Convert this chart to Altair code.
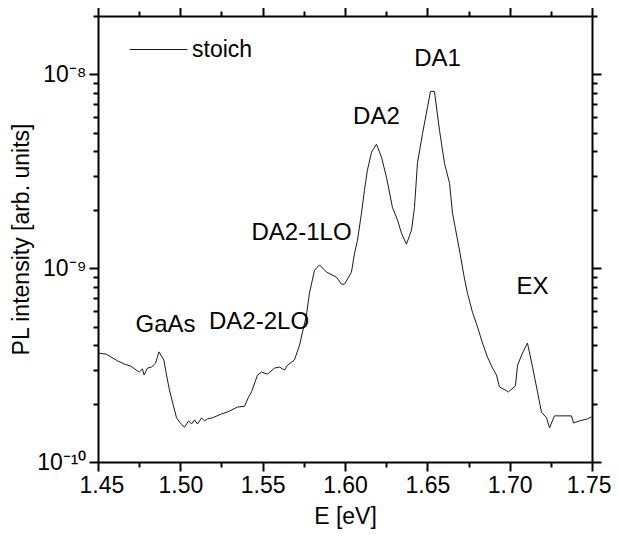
import altair as alt
import pandas as pd

# ---- data ----
energy = [1.450, 1.455, 1.462, 1.466, 1.470, 1.475, 1.477, 1.478, 1.480, 1.4825,
          1.485, 1.487, 1.490, 1.4916, 1.4934, 1.4952, 1.4977, 1.500, 1.5025, 1.505,
          1.5068, 1.5086, 1.5104, 1.5129, 1.5147, 1.5165, 1.5195, 1.525, 1.5286, 1.5347,
          1.539, 1.5414, 1.5432, 1.5469, 1.5493, 1.5529, 1.5572, 1.5602, 1.5633, 1.5651,
          1.5693, 1.5724, 1.5742, 1.5766, 1.5784, 1.5815, 1.5845, 1.5888, 1.5948, 1.5979,
          1.5997, 1.6039, 1.6058, 1.6076, 1.610, 1.6118, 1.6136, 1.6161, 1.6191, 1.6222,
          1.6252, 1.6288, 1.6319, 1.6343, 1.6373, 1.6404, 1.6422, 1.644, 1.6471, 1.6501,
          1.6519, 1.6543, 1.6574, 1.6604, 1.6635, 1.6653, 1.6695, 1.6726, 1.6744, 1.6774,
          1.6805, 1.6835, 1.6865, 1.6896, 1.692, 1.6938, 1.6993, 1.7035, 1.7048, 1.7078,
          1.7108, 1.7139, 1.7169, 1.7193, 1.7224, 1.7242, 1.7272, 1.7375, 1.7388, 1.7424,
          1.7473, 1.7497]
intensity = [3.65e-10, 3.60e-10, 3.32e-10, 3.20e-10, 3.12e-10, 2.91e-10, 3.02e-10, 2.81e-10, 3.05e-10, 3.09e-10,
             3.24e-10, 3.70e-10, 3.36e-10, 2.81e-10, 2.35e-10, 2.04e-10, 1.69e-10, 1.59e-10, 1.51e-10, 1.63e-10,
             1.57e-10, 1.65e-10, 1.57e-10, 1.69e-10, 1.63e-10, 1.67e-10, 1.69e-10, 1.77e-10, 1.81e-10, 1.92e-10,
             1.94e-10, 2.16e-10, 2.30e-10, 2.81e-10, 2.91e-10, 2.84e-10, 3.05e-10, 3.09e-10, 2.98e-10, 3.16e-10,
             3.36e-10, 4.01e-10, 4.68e-10, 5.72e-10, 7.43e-10, 9.76e-10, 1.04e-9, 9.54e-10, 8.99e-10, 8.27e-10,
             8.27e-10, 9.54e-10, 1.195e-9, 1.394e-9, 1.92e-9, 2.52e-9, 3.20e-9, 3.96e-9, 4.36e-9, 3.73e-9,
             2.94e-9, 2.06e-9, 1.77e-9, 1.515e-9, 1.33e-9, 1.57e-9, 2.06e-9, 3.48e-9, 4.96e-9, 6.76e-9,
             8.17e-9, 8.17e-9, 5.14e-9, 3.48e-9, 2.74e-9, 1.92e-9, 1.24e-9, 8.78e-10, 7.43e-10, 5.93e-10,
             4.97e-10, 4.11e-10, 3.48e-10, 3.05e-10, 2.81e-10, 2.44e-10, 2.30e-10, 2.47e-10, 3.16e-10, 3.65e-10,
             4.11e-10, 3.09e-10, 2.30e-10, 1.81e-10, 1.69e-10, 1.50e-10, 1.73e-10, 1.73e-10, 1.59e-10, 1.63e-10,
             1.67e-10, 1.71e-10]
series_name = "stoich"

ann_labels = ["GaAs", "DA2-2LO", "DA2-1LO", "DA2", "DA1", "EX"]
ann_energy = [1.491, 1.5478, 1.5736, 1.6191, 1.6562, 1.7139]
ann_intensity = [5.08e-10, 5.27e-10, 1.515e-9, 6.0e-9, 1.195e-8, 7.98e-10]

x_ticks = [1.45, 1.475, 1.50, 1.525, 1.55, 1.575, 1.60, 1.625, 1.65, 1.675, 1.70, 1.725, 1.75]
y_ticks = [1e-10, 2e-10, 3e-10, 4e-10, 5e-10, 6e-10, 7e-10, 8e-10, 9e-10,
           1e-9, 2e-9, 3e-9, 4e-9, 5e-9, 6e-9, 7e-9, 8e-9, 9e-9, 1e-8, 2e-8]
x_domain = [1.45, 1.75]
y_domain = [1e-10, 2e-8]

FONT = "Liberation Sans"

line_df = pd.DataFrame({"E": energy, "I": intensity, "series": series_name})
ann_df = pd.DataFrame({"label": ann_labels, "E": ann_energy, "I": ann_intensity})

x_major = "abs(datum.value*20 - round(datum.value*20)) < 0.001"
y_major = "abs(log(datum.value)/LN10 - round(log(datum.value)/LN10)) < 0.001"
y_exp = "round(log(datum.value)/LN10)"
y_label_expr = (f"({y_major}) ? ({y_exp} == -10 ? '10⁻¹⁰' : {y_exp} == -9 ? '10⁻⁹' : "
                f"{y_exp} == -8 ? '10⁻⁸' : '') : ''")

common_axis = dict(
    domainColor="black", domainWidth=2, tickColor="black", tickWidth=2,
    grid=False, labelFont=FONT, labelFontSize=23, labelColor="black",
    titleFont=FONT, titleFontSize=23, titleFontWeight="normal", titleColor="black",
)

x_tick_size = {"condition": {"test": x_major, "value": 9}, "value": 5}
y_tick_size = {"condition": {"test": y_major, "value": 9}, "value": 5}

x_scale = alt.Scale(domain=x_domain, zero=False, nice=False)
y_scale = alt.Scale(type="log", domain=y_domain, nice=False)

line = alt.Chart(line_df).mark_line(strokeWidth=1, interpolate="linear").encode(
    x=alt.X("E:Q", scale=x_scale,
            axis=alt.Axis(orient="bottom", values=x_ticks, tickSize=x_tick_size,
                          labelExpr=f"({x_major}) ? format(datum.value, '.2f') : ''",
                          labelPadding=3, title="E [eV]", titlePadding=8,
                          labelOverlap=False, labelFlush=True, labelFlushOffset=19,
                          **common_axis)),
    y=alt.Y("I:Q", scale=y_scale,
            axis=alt.Axis(orient="left", values=y_ticks, tickSize=y_tick_size,
                          labelExpr=y_label_expr, labelPadding=3, labelOverlap=False,
                          title="PL intensity [arb. units]", titlePadding=3, **common_axis)),
    color=alt.Color("series:N", scale=alt.Scale(range=["#1a1a1a"]),
                    legend=alt.Legend(orient="none", legendX=31, legendY=4, title=None,
                                      symbolType="stroke", symbolSize=3300, symbolStrokeWidth=1,
                                      labelFont=FONT, labelFontSize=23, labelColor="black",
                                      labelOffset=4, padding=0)),
)

text = alt.Chart(ann_df).mark_text(font=FONT, fontSize=24, color="black",
                                    align="center", baseline="middle").encode(
    x=alt.X("E:Q", scale=x_scale,
            axis=alt.Axis(orient="top", values=x_ticks, tickSize=x_tick_size,
                          labels=False, title=None, **common_axis)),
    y=alt.Y("I:Q", scale=y_scale,
            axis=alt.Axis(orient="right", values=y_ticks, tickSize=y_tick_size,
                          labels=False, title=None, **common_axis)),
    text="label:N",
)

chart = alt.layer(line, text).resolve_scale(x="independent", y="independent").properties(
    width=494, height=446,
    autosize=alt.AutoSizeParams(type="none"),
    padding={"left": 90, "top": 8, "right": 19, "bottom": 75},
).configure_view(stroke=None).configure(background="white")

chart.save("out.html", embed_options={"renderer": "svg", "actions": False})
